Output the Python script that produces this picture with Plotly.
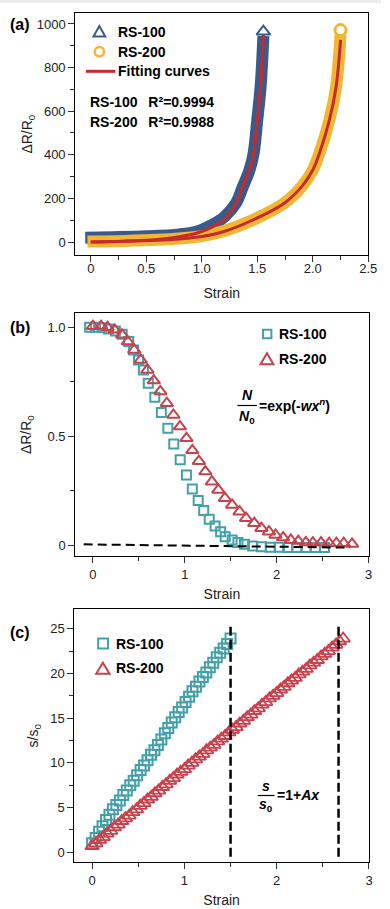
import plotly.graph_objects as go

W, H = 390, 909
FONT = "Liberation Sans, Arial, Helvetica, sans-serif"

# ---------------- Panel (a) data ----------------
a_rs100_band_x = [-0.05, 0.2, 0.5, 0.8, 0.95, 1.06, 1.15, 1.21, 1.31, 1.37, 1.43, 1.467, 1.50, 1.53, 1.555]
a_rs100_band_y = [20, 22, 26, 35, 47, 70, 95, 118, 180, 254, 330, 407, 560, 712, 945]
a_rs100_fit_x = [0, 0.3, 0.6, 0.8, 0.95, 1.06, 1.15, 1.21, 1.31, 1.37, 1.43, 1.467, 1.50, 1.53, 1.555]
a_rs100_fit_y = [0, 4, 12, 24, 40, 60, 85, 108, 177, 254, 330, 407, 560, 712, 950]
a_rs100_end_x = [1.555]
a_rs100_end_y = [965]

a_rs200_band_x = [-0.03, 0.3, 0.6, 0.8, 1.0, 1.2, 1.46, 1.74, 1.9, 2.0, 2.06, 2.15, 2.21, 2.25]
a_rs200_band_y = [2, 5, 10, 16, 27, 50, 101, 177, 254, 330, 407, 560, 712, 950]
a_rs200_fit_x = [0, 0.3, 0.6, 0.8, 1.0, 1.2, 1.46, 1.74, 1.9, 2.0, 2.06, 2.15, 2.21, 2.25]
a_rs200_fit_y = [0, 3, 8, 14, 25, 48, 101, 177, 254, 330, 407, 560, 712, 927]
a_rs200_end_x = [2.25]
a_rs200_end_y = [972]

a_xtickvals = [0, 0.5, 1.0, 1.5, 2.0, 2.5]
a_xticktext = ["0", "0.5", "1.0", "1.5", "2.0", "2.5"]
a_ytickvals = [0, 200, 400, 600, 800, 1000]

# ---------------- Panel (b) data ----------------
b_rs100_x = [-0.035, 0.03, 0.1, 0.17, 0.245, 0.319, 0.39, 0.443, 0.497, 0.55, 0.603, 0.674,
             0.745, 0.816, 0.88, 0.95, 1.018, 1.082, 1.146, 1.206, 1.266, 1.33, 1.39, 1.44,
             1.515, 1.578, 1.649, 1.738, 1.834, 1.93, 2.03, 2.12, 2.22, 2.32, 2.42, 2.52]
b_rs100_y = [1.0, 1.0, 0.998, 0.992, 0.983, 0.968, 0.934, 0.896, 0.85, 0.804, 0.743, 0.679,
             0.608, 0.536, 0.464, 0.391, 0.322, 0.257, 0.204, 0.158, 0.118, 0.087, 0.061, 0.038,
             0.023, 0.011, 0.003, -0.005, -0.008, -0.01, -0.01, -0.012, -0.012, -0.012, -0.012, -0.012]
b_rs200_x = [0.0, 0.089, 0.16, 0.238, 0.319, 0.38, 0.45, 0.521, 0.593, 0.663, 0.734, 0.805,
             0.876, 0.947, 1.018, 1.082, 1.153, 1.224, 1.295, 1.365, 1.437, 1.515, 1.596, 1.667,
             1.756, 1.834, 1.916, 1.987, 2.07, 2.153, 2.235, 2.317, 2.394, 2.483, 2.572, 2.65,
             2.73, 2.82]
b_rs200_y = [1.005, 1.005, 1.0, 0.988, 0.965, 0.934, 0.896, 0.85, 0.804, 0.755, 0.705, 0.651,
             0.597, 0.544, 0.49, 0.435, 0.385, 0.337, 0.291, 0.253, 0.215, 0.184, 0.153, 0.123,
             0.1, 0.077, 0.061, 0.046, 0.034, 0.023, 0.018, 0.012, 0.011, 0.011, 0.008, 0.008,
             0.008, 0.005]
b_zero_x = [-0.1, 2.8]
b_zero_y = [0.003, -0.012]

b_xtickvals = [0, 1, 2, 3]
b_ytickvals = [0, 0.5, 1.0]
b_yticktext = ["0", "0.5", "1.0"]

# ---------------- Panel (c) data ----------------
c_rs100_x = [0.0, 0.0375, 0.075, 0.1125, 0.15, 0.1875, 0.225, 0.2625, 0.3, 0.3375, 0.375,
             0.4125, 0.45, 0.4875, 0.525, 0.5625, 0.6, 0.6375, 0.675, 0.7125, 0.75, 0.7875,
             0.825, 0.8625, 0.9, 0.9375, 0.975, 1.0125, 1.05, 1.0875, 1.125, 1.1625, 1.2,
             1.2375, 1.275, 1.3125, 1.35, 1.3875, 1.425, 1.4625, 1.5]
c_rs100_y = [1.0, 1.6, 2.3, 2.9, 3.6, 4.2, 4.8, 5.3, 5.8, 6.4, 6.9,
             7.5, 8.0, 8.6, 9.2, 9.7, 10.3, 10.9, 11.4, 12.0, 12.6, 13.3,
             13.9, 14.5, 15.1, 15.7, 16.2, 16.8, 17.4, 18.0, 18.5, 19.1, 19.6,
             20.1, 20.7, 21.2, 21.8, 22.3, 22.8, 23.3, 23.9]
c_rs200_x = [0.0, 0.04, 0.08, 0.12, 0.16, 0.2, 0.24, 0.28, 0.32, 0.36, 0.4, 0.44, 0.48, 0.52,
             0.56, 0.6, 0.64, 0.68, 0.72, 0.76, 0.8, 0.84, 0.88, 0.92, 0.96, 1.0, 1.04, 1.08,
             1.12, 1.16, 1.2, 1.24, 1.28, 1.32, 1.36, 1.4, 1.44, 1.48, 1.52, 1.56, 1.6, 1.64,
             1.68, 1.72, 1.76, 1.8, 1.84, 1.88, 1.92, 1.96, 2.0, 2.04, 2.08, 2.12, 2.16, 2.2,
             2.24, 2.28, 2.32, 2.36, 2.4, 2.44, 2.48, 2.52, 2.56, 2.6, 2.64, 2.68, 2.72]
c_rs200_y = [0.7, 1.0, 1.4, 1.7, 2.1, 2.4, 2.8, 3.1, 3.5, 3.8, 4.1, 4.5, 4.8, 5.2,
             5.5, 5.9, 6.2, 6.6, 6.9, 7.3, 7.6, 8.0, 8.3, 8.7, 9.0, 9.3, 9.7, 10.0,
             10.4, 10.7, 11.0, 11.4, 11.7, 12.0, 12.4, 12.7, 13.0, 13.4, 13.7, 14.0, 14.4, 14.7,
             15.1, 15.4, 15.8, 16.1, 16.5, 16.8, 17.2, 17.5, 17.8, 18.2, 18.5, 18.9, 19.2, 19.5,
             19.9, 20.2, 20.5, 20.9, 21.2, 21.5, 21.9, 22.2, 22.5, 22.9, 23.2, 23.6, 23.9]
c_vline1_x = [1.5, 1.5]
c_vline2_x = [2.67, 2.67]
c_vline_y = [-0.5, 25.3]

c_xtickvals = [0, 1, 2, 3]
c_ytickvals = [0, 5, 10, 15, 20, 25]

# ---------------- styling ----------------
BLUE = "#3a5a8c"
YELLOW = "#f2b632"
RED = "#c62a2a"
TEAL = "#44a0a8"
ROSE = "#c8424e"


def px(x):
    return x / W


def py(y):
    return 1 - y / H


fig = go.Figure()

# Panel (a)
fig.add_trace(go.Scatter(x=a_rs100_band_x, y=a_rs100_band_y, mode="lines",
                         line=dict(color=BLUE, width=12, shape="spline"),
                         xaxis="x", yaxis="y", hoverinfo="skip", name="RS-100"))
fig.add_trace(go.Scatter(x=a_rs200_band_x, y=a_rs200_band_y, mode="lines",
                         line=dict(color=YELLOW, width=12, shape="spline"),
                         xaxis="x", yaxis="y", hoverinfo="skip", name="RS-200"))
fig.add_trace(go.Scatter(x=a_rs100_fit_x, y=a_rs100_fit_y, mode="lines",
                         line=dict(color=RED, width=3, shape="spline"),
                         xaxis="x", yaxis="y", name="Fitting curves"))
fig.add_trace(go.Scatter(x=a_rs200_fit_x, y=a_rs200_fit_y, mode="lines",
                         line=dict(color=RED, width=3, shape="spline"),
                         xaxis="x", yaxis="y", name="Fitting curves"))
fig.add_trace(go.Scatter(x=a_rs100_end_x, y=a_rs100_end_y, mode="markers",
                         marker=dict(symbol="triangle-up", size=12, color="white",
                                     line=dict(color=BLUE, width=2)),
                         xaxis="x", yaxis="y", name="RS-100"))
fig.add_trace(go.Scatter(x=a_rs200_end_x, y=a_rs200_end_y, mode="markers",
                         marker=dict(symbol="circle", size=11, color="white",
                                     line=dict(color=YELLOW, width=3)),
                         xaxis="x", yaxis="y", name="RS-200"))

# Panel (b)
fig.add_trace(go.Scatter(x=b_rs100_x, y=b_rs100_y, mode="markers",
                         marker=dict(symbol="square-open", size=9, color=TEAL,
                                     line=dict(color=TEAL, width=2)),
                         xaxis="x2", yaxis="y2", name="RS-100"))
fig.add_trace(go.Scatter(x=b_rs200_x, y=b_rs200_y, mode="markers",
                         marker=dict(symbol="triangle-up-open", size=11, color=ROSE,
                                     line=dict(color=ROSE, width=2)),
                         xaxis="x2", yaxis="y2", name="RS-200"))
fig.add_trace(go.Scatter(x=b_zero_x, y=b_zero_y, mode="lines",
                         line=dict(color="black", width=2, dash="9px,5px"),
                         xaxis="x2", yaxis="y2", name="fit"))

# Panel (c)
fig.add_trace(go.Scatter(x=c_rs100_x, y=c_rs100_y, mode="markers",
                         marker=dict(symbol="square-open", size=10, color=TEAL,
                                     line=dict(color=TEAL, width=2)),
                         xaxis="x3", yaxis="y3", name="RS-100"))
fig.add_trace(go.Scatter(x=c_rs200_x, y=c_rs200_y, mode="markers",
                         marker=dict(symbol="triangle-up-open", size=12, color=ROSE,
                                     line=dict(color=ROSE, width=1.8)),
                         xaxis="x3", yaxis="y3", name="RS-200"))
for vx in (c_vline1_x, c_vline2_x):
    fig.add_trace(go.Scatter(x=vx, y=c_vline_y, mode="lines",
                             line=dict(color="black", width=2.5, dash="9px,4px"),
                             xaxis="x3", yaxis="y3", name="limit"))


def axis(**kw):
    d = dict(showline=True, linecolor="black", linewidth=1, mirror=True,
             ticks="outside", ticklen=6, tickwidth=1, tickcolor="#333",
             showgrid=False, zeroline=False,
             tickfont=dict(family=FONT, size=13, color="#222"),
             title_font=dict(family=FONT, size=14, color="#222"))
    d.update(kw)
    return d


def minor(dt):
    return dict(ticks="outside", ticklen=4, tickcolor="#333", tickmode="linear", tick0=0, dtick=dt)


layout = dict(
    width=W, height=H,
    margin=dict(l=0, r=0, t=0, b=0),
    paper_bgcolor="white", plot_bgcolor="white",
    showlegend=False,
    font=dict(family=FONT, color="#222"),
    xaxis=axis(domain=[px(77), px(377)], anchor="y", range=[-0.14, 2.5],
               tickmode="array", tickvals=a_xtickvals, ticktext=a_xticktext, minor=minor(0.25),
               ticklabelstandoff=-5,
               title=dict(text="Strain", standoff=13)),
    yaxis=axis(domain=[py(255), py(13.3)], anchor="x", range=[-59.6, 1049],
               tickmode="array", tickvals=a_ytickvals, minor=minor(100),
               title=dict(text="ΔR/R<sub>0</sub>", standoff=0)),
    xaxis2=axis(domain=[px(77), px(377.3)], anchor="y2", range=[-0.192, 3.0],
                tickmode="array", tickvals=b_xtickvals, minor=minor(0.5),
                title=dict(text="Strain", standoff=8)),
    yaxis2=axis(domain=[py(556), py(313.3)], anchor="x2", range=[-0.0505, 1.064],
                tickmode="array", tickvals=b_ytickvals, ticktext=b_yticktext, minor=minor(0.25),
                title=dict(text="ΔR/R<sub>0</sub>", standoff=12)),
    xaxis3=axis(domain=[px(76), px(377.7)], anchor="y3", range=[-0.194, 3.0],
                tickmode="array", tickvals=c_xtickvals, minor=minor(0.5),
                title=dict(text="Strain", standoff=8)),
    yaxis3=axis(domain=[py(862.3), py(609.3)], anchor="x3", range=[-1.12, 27.17],
                tickmode="array", tickvals=c_ytickvals, minor=minor(2.5),
                title=dict(text="s/s<sub>0</sub>", standoff=8)),
)
fig.update_layout(**layout)

anns = []


def ann(text, x, y, size=14, xanchor="left", yanchor="middle", color="black"):
    anns.append(dict(text=text, x=px(x), y=py(y), xref="paper", yref="paper",
                     xanchor=xanchor, yanchor=yanchor, showarrow=False,
                     font=dict(family=FONT, size=size, color=color)))


# panel labels
ann("<b>(a)</b>", 8, 25, size=16)
ann("<b>(b)</b>", 8, 327, size=16)
ann("<b>(c)</b>", 8, 632, size=16)

# legend (a)
ann("<b>RS-100</b>", 119, 31.7)
ann("<b>RS-200</b>", 119, 51.7)
ann("<b>Fitting curves</b>", 119, 71.3)
ann("<b>RS-100\u2002\u00a0R²=0.9994</b>", 90, 101.5)
ann("<b>RS-200\u2002\u00a0R²=0.9988</b>", 90, 122.5)

# legend (b)
ann("<b>RS-100</b>", 284, 334)
ann("<b>RS-200</b>", 284, 358.5)
ann("<b><i>N</i></b>", 253, 395, xanchor="center")
ann("<b><i>N</i><sub>0</sub></b>", 253, 417, xanchor="center")
ann("<b>=exp(-<i>wx</i><sup><i>n</i></sup>)</b>", 263.5, 405)

# legend (c)
ann("<b>RS-100</b>", 116.5, 643.5)
ann("<b>RS-200</b>", 116.5, 668.3)
ann("<b><i>s</i></b>", 272.5, 786, xanchor="center")
ann("<b><i>s</i><sub>0</sub></b>", 272.5, 805, xanchor="center")
ann("<b>=1+<i>Ax</i></b>", 282, 795)

shapes = []


def tri(cx, cy, hw, h, color, width=2):
    x0, x1 = px(cx - hw), px(cx + hw)
    yb, yt = py(cy + h / 3), py(cy - 2 * h / 3)
    shapes.append(dict(type="path", xref="paper", yref="paper",
                       path=f"M{x0},{yb} L{x1},{yb} L{px(cx)},{yt} Z",
                       line=dict(color=color, width=width), fillcolor="rgba(0,0,0,0)"))


def sq(cx, cy, half, color, width=2):
    shapes.append(dict(type="rect", xref="paper", yref="paper",
                       x0=px(cx - half), x1=px(cx + half), y0=py(cy + half), y1=py(cy - half),
                       line=dict(color=color, width=width), fillcolor="rgba(0,0,0,0)"))


# legend symbols (a)
tri(101.7, 33, 6, 10.5, BLUE)
shapes.append(dict(type="circle", xref="paper", yref="paper",
                   x0=px(97), x1=px(106.4), y0=py(56.4), y1=py(47),
                   line=dict(color=YELLOW, width=2.5), fillcolor="rgba(0,0,0,0)"))
shapes.append(dict(type="line", xref="paper", yref="paper",
                   x0=px(88), x1=px(118), y0=py(71.3), y1=py(71.3),
                   line=dict(color=RED, width=3)))
# legend symbols (b)
sq(273.5, 334, 4.3, TEAL)
tri(273.3, 360.5, 6.6, 11, ROSE)
shapes.append(dict(type="line", xref="paper", yref="paper",
                   x0=px(243), x1=px(263), y0=py(405.5), y1=py(405.5),
                   line=dict(color="black", width=1.2)))
# legend symbols (c)
sq(105.5, 643.5, 5, TEAL)
tri(105.3, 670, 6.8, 11, ROSE)
shapes.append(dict(type="line", xref="paper", yref="paper",
                   x0=px(264), x1=px(281), y0=py(795.5), y1=py(795.5),
                   line=dict(color="black", width=1.2)))
# thin grey strip at the very top of the page
shapes.append(dict(type="rect", xref="paper", yref="paper", x0=0, x1=1,
                   y0=py(3), y1=1, line=dict(width=0), fillcolor="#ececec", layer="below"))

fig.update_layout(annotations=anns, shapes=shapes)
fig.write_html("out.html", config={"displayModeBar": False},
               post_script="document.body.style.margin='0';document.body.style.padding='0';")
